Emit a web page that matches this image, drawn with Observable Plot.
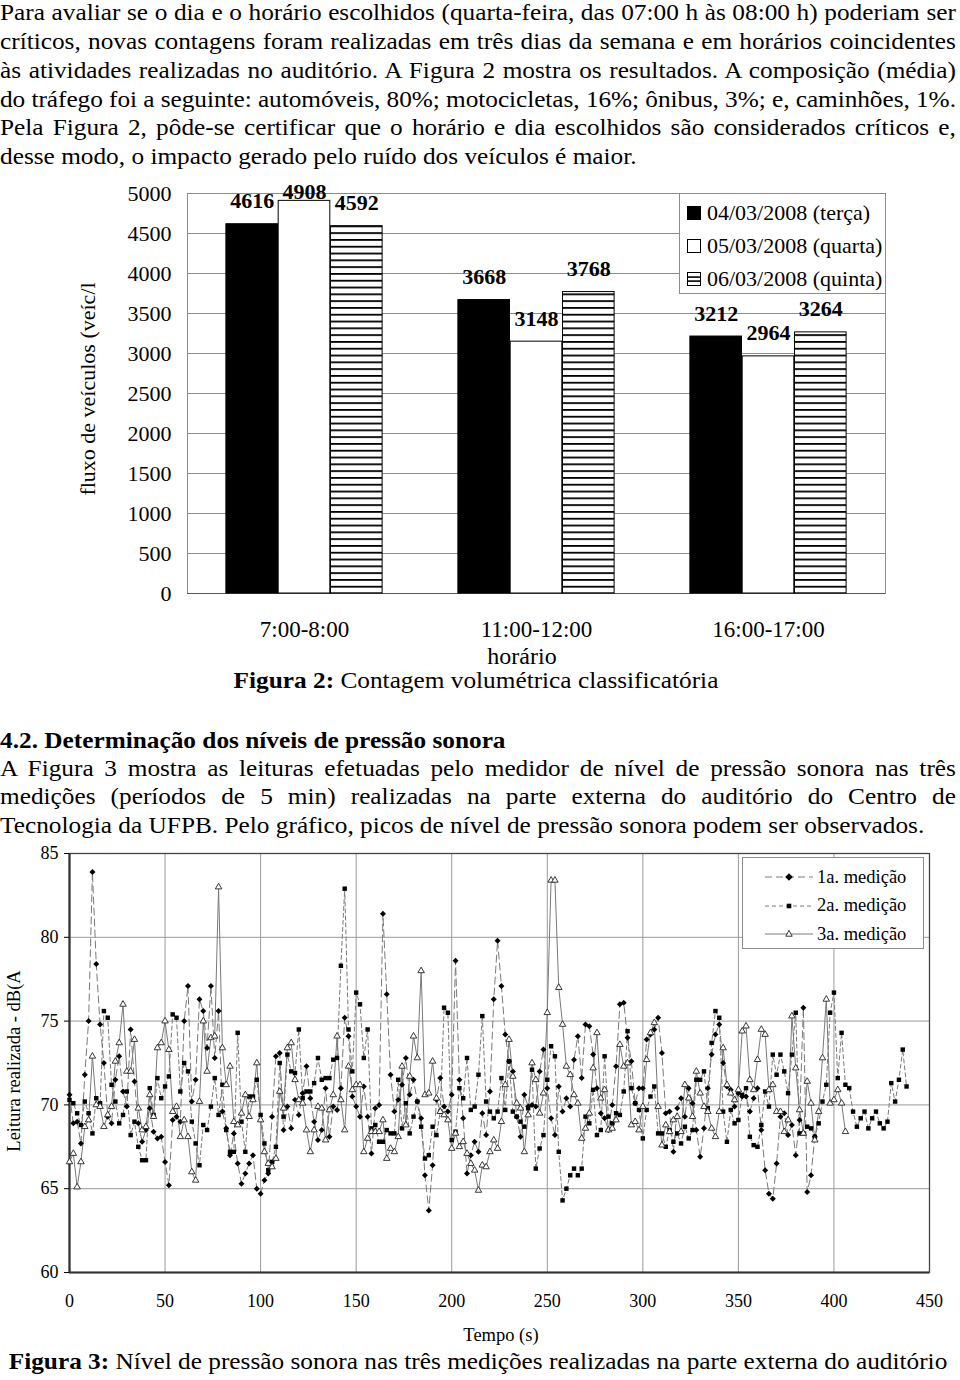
<!DOCTYPE html>
<html>
<head>
<meta charset="utf-8">
<script src="https://cdn.jsdelivr.net/npm/d3@7"></script>
<script src="https://cdn.jsdelivr.net/npm/@observablehq/plot@0.6"></script>
<style>
  body { margin: 0; background: #fff; }
  #page { position: relative; width: 960px; height: 1380px; overflow: hidden;
          font-family: "Liberation Serif", "Times New Roman", serif; color: #000; background: #fff; }
  .ln { position: absolute; left: 0; width: 869px; height: 28px; line-height: 28px; font-size: 23px;
        white-space: normal; transform: scaleX(1.1); transform-origin: 0 0; }
  .j { text-align: justify; text-align-last: justify; }
  .abs { position: absolute; white-space: nowrap; }
  .rot { transform: translate(-50%, -50%) rotate(-90deg); }
  .ctr { transform: translate(-50%, -50%); }
  .ctrs { transform: translate(-50%, -50%) scaleX(1.1); }
  #barchart, #linechart { position: absolute; left: 0; }
  #barchart { top: 170px; }
  #linechart { top: 840px; }
  .legbox { position: absolute; background: #fff; border: 1px solid #8c8c8c; box-sizing: border-box; }
  .legrow { position: absolute; left: 0; white-space: nowrap; display: flex; align-items: center; }
</style>
</head>
<body>
<div id="page">
  <div class="ln j" style="top:-1px">Para avaliar se o dia e o horário escolhidos (quarta-feira, das 07:00 h às 08:00 h) poderiam ser</div>
  <div class="ln j" style="top:28px">críticos, novas contagens foram realizadas em três dias da semana e em horários coincidentes</div>
  <div class="ln j" style="top:57px">às atividades realizadas no auditório. A Figura 2 mostra os resultados. A composição (média)</div>
  <div class="ln j" style="top:86px">do tráfego foi a seguinte: automóveis, 80%; motocicletas, 16%; ônibus, 3%; e, caminhões, 1%.</div>
  <div class="ln j" style="top:114px">Pela Figura 2, pôde-se certificar que o horário e dia escolhidos são considerados críticos e,</div>
  <div class="ln" style="top:143px">desse modo, o impacto gerado pelo ruído dos veículos é maior.</div>

  <div id="barchart"></div>
  <div id="linechart"></div>

  <div class="abs rot" style="left:88px; top:389px; font-size:22px;">fluxo de veículos (veíc/l</div>
  <div class="abs ctr" style="left:522px; top:656px; font-size:24px;">horário</div>
  <div class="abs ctrs" style="left:476px; top:681px; font-size:23px;"><b>Figura 2:</b> Contagem volumétrica classificatória</div>

  <div class="legbox" id="barlegend" style="left:679px; top:193px; width:207px; height:101px;"></div>

  <div class="ln" style="top:727px"><b>4.2. Determinação dos níveis de pressão sonora</b></div>
  <div class="ln j" style="top:755px">A Figura 3 mostra as leituras efetuadas pelo medidor de nível de pressão sonora nas três</div>
  <div class="ln j" style="top:783px">medições (períodos de 5 min) realizadas na parte externa do auditório do Centro de</div>
  <div class="ln" style="top:812px">Tecnologia da UFPB. Pelo gráfico, picos de nível de pressão sonora podem ser observados.</div>

  <div class="abs rot" style="left:14px; top:1061px; font-size:18.5px;">Leitura realizada - dB(A</div>
  <div class="abs ctr" style="left:501px; top:1335px; font-size:18.5px;">Tempo (s)</div>
  <div class="abs ctrs" style="left:478px; top:1362px; font-size:23px;"><b>Figura 3:</b> Nível de pressão sonora nas três medições realizadas na parte externa do auditório</div>

  <div class="legbox" id="linelegend" style="left:742px; top:857px; width:182px; height:92px;"></div>
</div>

<script>
// ---------------- Figure 2 data ----------------
const times = ["7:00-8:00", "11:00-12:00", "16:00-17:00"];
const days = ["04/03/2008 (terça)", "05/03/2008 (quarta)", "06/03/2008 (quinta)"];
const terca = [4616, 3668, 3212];
const quarta = [4908, 3148, 2964];
const quinta = [4592, 3768, 3264];
const barTicks = [0, 500, 1000, 1500, 2000, 2500, 3000, 3500, 4000, 4500, 5000];

// ---------------- Figure 3 data (one reading every 2 s) ----------------
const stepSeconds = 2;
const medicao1 = [
70.6,68.9,69.0,67.7,71.8,75.0,83.9,78.4,74.8,72.5,69.3,68.9,71.5,72.9,70.8,69.9,74.5,71.4,68.9,67.8,
68.5,69.8,68.4,68.0,68.1,66.6,65.2,69.1,69.3,69.0,75.0,77.1,70.2,71.5,76.3,75.6,73.4,77.1,72.8,75.6,
69.6,68.6,67.0,68.3,66.5,65.3,65.9,66.5,67.0,65.0,64.7,65.5,65.9,69.3,72.9,73.1,68.5,69.9,68.6,70.3,
69.4,70.7,72.3,70.4,69.0,67.9,68.5,71.0,68.1,69.9,69.7,71.0,75.2,74.1,70.5,69.9,69.3,71.1,69.3,67.1,
69.8,70.0,81.4,76.6,71.8,69.6,70.3,71.2,72.8,70.6,71.5,70.2,69.2,65.8,63.7,66.4,70.3,71.6,69.9,69.6,
70.6,78.6,71.5,69.2,65.9,67.0,67.8,67.2,69.5,68.2,70.8,76.3,79.8,77.1,74.2,72.6,72.0,69.3,68.1,70.6,
69.9,70.0,69.9,72.0,73.3,71.0,69.2,68.2,71.1,69.6,70.4,69.9,72.7,74.1,71.6,74.8,74.7,73.0,71.0,69.5,
69.2,68.5,70.0,72.3,76.0,76.1,74.0,72.6,70.1,71.0,71.0,73.9,74.2,74.5,75.2,73.1,69.5,69.6,67.2,69.8,
70.4,69.3,71.0,70.1,68.5,66.9,68.6,71.0,73.0,74.2,74.8,72.5,71.1,70.9,69.9,70.7,70.5,70.5,69.6,70.4,
71.0,68.5,66.1,64.7,64.4,66.5,69.3,69.5,68.2,68.8,67.0,69.1,75.8,64.8,65.8,68.1
];
const medicao2 = [
70.3,70.1,69.5,68.8,70.2,69.5,68.3,70.4,70.1,75.6,75.2,71.2,70.2,68.9,69.4,70.8,68.2,69.0,67.5,66.7,
66.7,71.0,69.4,71.6,70.4,71.1,71.7,75.4,75.2,70.8,72.5,72.0,69.0,67.7,66.4,68.8,68.5,69.9,71.6,69.4,
71.2,68.5,67.2,67.2,74.3,69.0,67.2,70.5,70.5,71.5,69.4,67.7,66.1,66.6,67.5,72.5,69.3,73.0,72.0,71.9,
74.5,70.4,70.8,70.8,71.3,72.8,71.5,71.6,71.6,72.7,72.8,78.3,82.9,74.5,72.0,76.7,76.0,72.8,74.5,68.6,
68.8,67.8,67.8,68.5,68.3,68.3,71.5,68.6,70.1,68.3,69.3,70.2,68.7,66.8,67.0,68.7,68.2,69.6,75.8,75.5,
67.9,68.4,71.0,70.4,72.8,69.7,69.9,71.8,75.3,70.2,69.6,69.2,69.6,71.6,69.7,72.6,69.6,69.3,69.0,68.7,
69.8,72.1,66.2,67.4,68.2,71.5,73.5,72.9,67.2,64.3,65.0,65.8,66.2,65.8,66.2,69.3,68.9,70.9,68.2,68.5,
72.9,69.3,68.9,69.5,69.4,70.8,74.4,71.0,70.1,69.7,68.0,69.7,70.5,71.1,68.3,68.3,67.5,68.5,67.8,68.3,
67.7,68.7,68.0,68.5,71.5,71.5,72.0,69.8,73.7,75.6,75.2,69.6,67.8,69.7,68.9,69.1,70.6,71.0,68.1,67.6,
67.5,68.8,70.8,69.9,73.0,71.8,73.0,72.0,70.7,73.0,75.5,68.3,68.3,68.7,68.6,68.1,68.9,70.2,71.2,75.5,
76.7,71.6,74.3,71.2,71.0,69.6,68.7,69.2,69.6,68.6,69.2,69.6,68.9,68.6,69.0,71.3,70.2,71.5,73.3,71.1
];
const medicao3 = [
66.6,67.1,65.1,66.6,68.7,69.1,72.9,70.0,69.9,68.7,69.4,69.9,72.6,73.7,76.0,72.0,72.0,73.9,69.8,68.5,
68.7,70.6,69.3,73.4,73.7,75.0,73.3,69.6,69.9,68.1,69.1,68.1,66.0,65.5,70.2,75.0,72.0,74.0,74.1,83.0,
73.4,71.2,72.3,69.0,68.8,69.5,70.6,69.3,70.3,72.5,69.1,67.2,66.5,66.3,66.8,70.8,69.8,73.4,73.7,71.5,
70.3,70.1,68.5,67.2,68.5,69.9,69.8,67.9,69.7,70.6,74.1,70.3,68.5,72.3,70.9,71.2,71.2,67.2,68.0,68.4,
68.4,68.4,69.1,66.8,67.4,67.2,68.1,72.3,68.8,71.7,74.1,72.8,78.0,70.6,70.7,72.6,70.4,69.6,69.4,69.1,
67.4,68.3,67.5,67.8,67.1,66.5,66.1,64.9,66.4,66.3,67.2,67.9,67.4,69.0,71.2,73.9,71.7,70.1,69.8,67.2,
69.4,72.5,71.5,69.5,70.7,75.5,83.4,83.4,77.0,74.8,72.3,71.8,70.6,70.1,68.0,68.6,69.5,72.2,74.3,70.4,
70.9,68.5,68.6,69.1,73.6,72.3,72.5,68.8,69.0,68.5,69.9,72.7,74.3,74.9,69.9,67.6,68.8,68.4,69.1,69.3,
68.4,71.2,70.4,69.3,72.0,70.7,69.9,69.6,68.6,68.1,69.6,73.4,71.2,70.7,70.3,70.9,74.4,74.7,71.5,70.9,
72.7,74.5,74.2,70.9,71.2,69.6,69.6,68.4,69.1,75.3,72.2,69.7,68.3,71.4,70.1,67.9,69.6,72.8,76.3,70.1,
70.3,70.9,70.1,68.4
];
const seriesNames = ["1a. medição", "2a. medição", "3a. medição"];
const timeTicks = [0, 50, 100, 150, 200, 250, 300, 350, 400, 450];
const levelTicks = [60, 65, 70, 75, 80, 85];

// keep every justified text line on one line (tighten letters slightly if it would wrap)
document.querySelectorAll(".ln").forEach(el => {
  let ls = 0;
  while (el.scrollHeight > 30 && ls > -1.5) {
    ls -= 0.05;
    el.style.letterSpacing = ls + "px";
  }
});

// ---------------- Figure 2: bar chart ----------------
const barRows = times.flatMap((t, i) => [
  {time: t, day: days[0], v: terca[i]},
  {time: t, day: days[1], v: quarta[i]},
  {time: t, day: days[2], v: quinta[i]}
]);
const barW = 52.3;
const bandW = (960 - 187 - 75) / times.length;
const inset = (bandW - barW) / 2;
const dayStyle = [
  {dx: -barW, fill: "black"},
  {dx: 0, fill: "white"},
  {dx: barW, fill: "url(#hstripe)"}
];
const yMax = 5000;

const barMarks = [
  Plot.gridY(barTicks.filter(d => d > 0), {stroke: "#8c8c8c", strokeOpacity: 1}),
  Plot.frame({stroke: "#8c8c8c"}),
  Plot.ruleY([0], {stroke: "#555"}),
  Plot.axisY({ticks: barTicks, tickFormat: d3.format("d"), tickSize: 0, tickPadding: 16, label: null, fontSize: 22}),
  Plot.axisX({tickSize: 0, tickPadding: 27, label: null, fontSize: 23})
];
days.forEach((day, k) => {
  const rows = barRows.filter(r => r.day === day);
  barMarks.push(Plot.barY(rows, {x: "time", y: "v", insetLeft: inset, insetRight: inset,
    dx: dayStyle[k].dx, fill: dayStyle[k].fill, stroke: "black", strokeWidth: 1}));
});
days.forEach((day, k) => {
  const rows = barRows.filter(r => r.day === day);
  // labels that would leave the plot area are pulled down against its top edge
  const normal = rows.filter(r => r.v <= 4800);
  const high = rows.filter(r => r.v > 4800);
  const common = {x: "time", y: "v", text: d => String(d.v), dx: dayStyle[k].dx,
    fontWeight: "bold", fontSize: 22, fill: "black"};
  barMarks.push(Plot.text(normal, {...common, dy: -23}));
  barMarks.push(Plot.text(high, {...common, dy: -9}));
});

const barSvg = Plot.plot({
  width: 960, height: 498,
  marginLeft: 187, marginRight: 75, marginTop: 23, marginBottom: 75,
  x: {type: "band", domain: times, padding: 0},
  y: {domain: [0, yMax]},
  style: {fontFamily: "Liberation Serif, Times New Roman, serif", fontSize: "22px", color: "black", background: "transparent", overflow: "visible"},
  marks: barMarks
});
barSvg.insertAdjacentHTML("afterbegin",
  '<defs><pattern id="hstripe" patternUnits="userSpaceOnUse" x="0" y="1" width="10" height="6.8">' +
  '<rect width="10" height="6.8" fill="white"/><rect y="0" width="10" height="1.8" fill="black"/></pattern></defs>');
document.getElementById("barchart").appendChild(barSvg);

// bar legend
const barLeg = document.getElementById("barlegend");
const swatches = [
  '<rect x="0.5" y="0.5" width="13" height="13" fill="black" stroke="black"/>',
  '<rect x="0.5" y="0.5" width="13" height="13" fill="white" stroke="black"/>',
  '<rect x="0.5" y="0.5" width="13" height="13" fill="white" stroke="black"/><rect x="0.5" y="4.3" width="13" height="1.6" fill="black"/><rect x="0.5" y="8.3" width="13" height="1.6" fill="black"/>'
];
days.forEach((d, k) => {
  const row = document.createElement("div");
  row.className = "legrow";
  row.style.top = (19 + 33 * k - 14) + "px";
  row.style.height = "28px";
  row.style.left = "7px";
  row.innerHTML = '<svg width="14" height="14" style="margin-right:6px">' + swatches[k] + '</svg><span style="font-size:22px">' + d + '</span>';
  barLeg.appendChild(row);
});

// ---------------- Figure 3: line chart ----------------
const toRows = (vals, name) => vals.map((v, i) => ({t: i * stepSeconds, v, s: name}));
const s1 = toRows(medicao1, seriesNames[0]);
const s2 = toRows(medicao2, seriesNames[1]);
const s3 = toRows(medicao3, seriesNames[2]);
const lineGray = "#7a7a7a";

const lineSvg = Plot.plot({
  width: 960, height: 482,
  marginLeft: 69, marginRight: 31, marginTop: 13, marginBottom: 50,
  x: {domain: [0, 450]},
  y: {domain: [60, 85]},
  style: {fontFamily: "Liberation Serif, Times New Roman, serif", fontSize: "18px", color: "black", background: "transparent", overflow: "visible"},
  marks: [
    Plot.gridX(timeTicks, {stroke: "#9a9a9a", strokeOpacity: 1}),
    Plot.gridY(levelTicks, {stroke: "#9a9a9a", strokeOpacity: 1}),
    Plot.frame({stroke: "#444", strokeWidth: 1.3}),
    Plot.ruleX([0], {stroke: "#333", strokeWidth: 2.2}),
    Plot.ruleY([60], {stroke: "#333", strokeWidth: 2}),
    Plot.axisY({ticks: levelTicks, tickSize: 5, tickPadding: 6, label: null, fontSize: 18}),
    Plot.axisX({ticks: timeTicks, tickSize: 0, tickPadding: 22, label: null, fontSize: 18}),
    Plot.line(s1, {x: "t", y: "v", stroke: lineGray, strokeWidth: 1, strokeDasharray: "7,4"}),
    Plot.line(s2, {x: "t", y: "v", stroke: lineGray, strokeWidth: 1, strokeDasharray: "4,3"}),
    Plot.line(s3, {x: "t", y: "v", stroke: lineGray, strokeWidth: 1}),
    Plot.dot(s1, {x: "t", y: "v", symbol: "diamond2", r: 2.7, fill: "black"}),
    Plot.dot(s2, {x: "t", y: "v", symbol: "square", r: 2.5, fill: "black"}),
    Plot.dot(s3, {x: "t", y: "v", symbol: "triangle", r: 2.4, fill: "white", stroke: "#222", strokeWidth: 0.9})
  ]
});
document.getElementById("linechart").appendChild(lineSvg);

// line legend
const lineLeg = document.getElementById("linelegend");
const legSamples = [
  '<line x1="0" y1="6" x2="48" y2="6" stroke="' + lineGray + '" stroke-dasharray="7,4"/><path d="M24,2.2L27.8,6L24,9.8L20.2,6Z" fill="black"/>',
  '<line x1="0" y1="6" x2="48" y2="6" stroke="' + lineGray + '" stroke-dasharray="4,3"/><rect x="21.7" y="3.7" width="4.6" height="4.6" fill="black"/>',
  '<line x1="0" y1="6" x2="48" y2="6" stroke="' + lineGray + '"/><path d="M24,2.4L27.2,8.2L20.8,8.2Z" fill="white" stroke="#222" stroke-width="0.9"/>'
];
seriesNames.forEach((n, k) => {
  const row = document.createElement("div");
  row.className = "legrow";
  row.style.top = (19 + 28.5 * k - 14) + "px";
  row.style.height = "28px";
  row.style.left = "22px";
  row.innerHTML = '<svg width="48" height="12" style="margin-right:4px">' + legSamples[k] + '</svg><span style="font-size:18.5px">' + n + '</span>';
  lineLeg.appendChild(row);
});
</script>
</body>
</html>
